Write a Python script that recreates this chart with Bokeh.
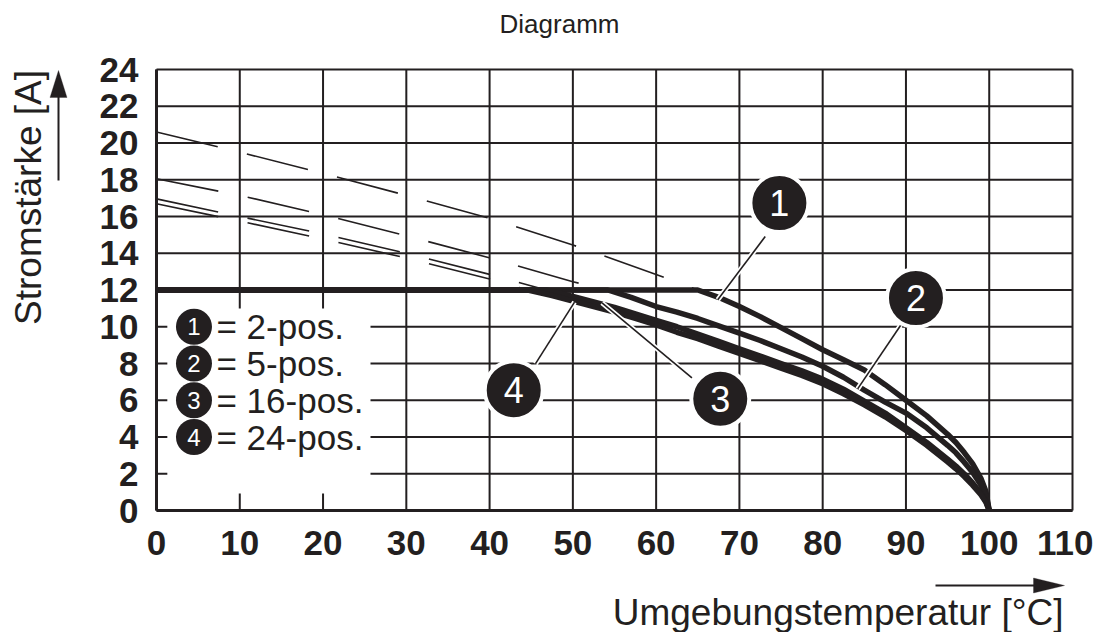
from math import pi
from bokeh.plotting import figure
from bokeh.models import Range1d, FixedTicker, Label, Arrow, PolyAnnotation
from bokeh.core.properties import value
from bokeh.embed import file_html
from bokeh.resources import INLINE

FONT = "Liberation Sans"
INK = "#231f20"

# ---------------- data ----------------
x_ticks = [0, 10, 20, 30, 40, 50, 60, 70, 80, 90, 100, 110]
y_ticks = [0, 2, 4, 6, 8, 10, 12, 14, 16, 18, 20, 22, 24]

# extrapolated (dashed) parts above 12 A
t_dash_1 = [0, 10, 20, 30, 40, 50, 60, 65]
a_dash_1 = [20.6, 19.5, 18.35, 17.15, 15.9, 14.45, 12.85, 12.0]
t_dash_2 = [0, 10, 20, 30, 40, 50, 54.2]
a_dash_2 = [18.05, 17.15, 16.1, 14.95, 13.75, 12.45, 12.0]
t_dash_3 = [0, 10, 20, 30, 40, 46.8]
a_dash_3 = [16.96, 16.0, 15.05, 14.0, 12.85, 12.0]
t_dash_4 = [0, 10, 20, 30, 40, 44.6]
a_dash_4 = [16.69, 15.75, 14.77, 13.74, 12.6, 12.0]

# derating curves (solid)
t_curve_1 = [0, 65, 67.5, 70, 72.5, 75, 77.5, 80, 82.5, 85, 87.5, 90, 92.5,
             95, 96, 97, 98, 99, 99.6, 100]
a_curve_1 = [12, 12, 11.6, 11.1, 10.55, 9.95, 9.35, 8.75, 8.2, 7.65, 6.85, 6.0,
             5.15, 4.15, 3.7, 3.15, 2.55, 1.75, 1.05, 0]
t_curve_2 = [0, 54.2, 57, 60, 62.5, 65, 67.5, 70, 72.5, 75, 77.5, 80, 82.5, 85,
             87.5, 90, 92.5, 95, 96, 97, 98, 99, 99.6, 100]
a_curve_2 = [12, 12, 11.6, 11.1, 10.8, 10.45, 10.05, 9.65, 9.25, 8.8, 8.35, 7.85,
             7.25, 6.55, 5.9, 5.3, 4.5, 3.55, 3.14, 2.63, 2.08, 1.39, 0.82, 0]
t_curve_3 = [0, 46.8, 50, 52.5, 55, 57.5, 60, 62.5, 65, 67.5, 70, 72.5, 75, 77.5,
             80, 82.5, 85, 87.5, 90, 92.5, 95, 96, 97, 98, 99, 99.6, 100]
a_curve_3 = [12, 12, 11.65, 11.35, 11.05, 10.7, 10.35, 10.0, 9.6, 9.2, 8.8, 8.4,
             8.0, 7.6, 7.15, 6.6, 5.95, 5.3, 4.5, 3.7, 2.8, 2.42, 1.99, 1.5,
             0.94, 0.5, 0]
t_curve_4 = [0, 44.6, 47.5, 50, 52.5, 55, 57.5, 60, 62.5, 65, 67.5, 70, 72.5, 75,
             77.5, 80, 82.5, 85, 87.5, 90, 92.5, 95, 96, 97, 98, 99, 99.6, 100]
a_curve_4 = [12, 12, 11.7, 11.4, 11.1, 10.8, 10.45, 10.1, 9.7, 9.35, 8.95, 8.55,
             8.15, 7.75, 7.35, 6.9, 6.35, 5.75, 5.1, 4.35, 3.55, 2.65, 2.27, 1.85,
             1.38, 0.86, 0.45, 0]

legend_keys = ["1", "2", "3", "4"]
legend_texts = ["= 2-pos.", "= 5-pos.", "= 16-pos.", "= 24-pos."]

# ---------------- figure ----------------
# The frame fills the whole canvas; the chart box 0..110 / 0..24 sits at
# canvas x 156..1072, y 69..510.
W, H = 1093, 632
X0, X1, Y0, Y1 = 156, 1072, 69, 510
kx = (X1 - X0) / (x_ticks[-1] - x_ticks[0])
ky = (Y1 - Y0) / (y_ticks[-1] - y_ticks[0])
p = figure(width=W, height=H, output_backend="svg", toolbar_location=None,
           title_location=None,
           x_range=Range1d(x_ticks[0] - X0 / kx, x_ticks[-1] + (W - X1) / kx),
           y_range=Range1d(y_ticks[0] - (H - Y1) / ky, y_ticks[-1] + Y0 / ky),
           min_border_left=0, min_border_right=0, min_border_top=0,
           min_border_bottom=0)
p.background_fill_color = "white"
p.border_fill_color = "white"
p.outline_line_color = None
p.grid.visible = False

for ax, ticks in ((p.xaxis, x_ticks), (p.yaxis, y_ticks)):
    ax.ticker = FixedTicker(ticks=ticks)
    ax.fixed_location = 0
    ax.bounds = (ticks[0], ticks[-1])
    ax.axis_line_color = INK
    ax.axis_line_width = 3
    ax.major_tick_in = 0
    ax.major_tick_out = 0
    ax.minor_tick_in = 0
    ax.minor_tick_out = 0
    ax.major_label_text_font = FONT
    ax.major_label_text_font_style = "bold"
    ax.major_label_text_font_size = "35px"
    ax.major_label_text_color = INK
p.xaxis.major_label_standoff = 20
p.yaxis.major_label_standoff = 18

# grid (from the tick lists)
nx, ny = len(x_ticks), len(y_ticks)
p.segment(x0=x_ticks, y0=[y_ticks[0]] * nx, x1=x_ticks, y1=[y_ticks[-1]] * nx,
          line_color=INK, line_width=2)
p.segment(x0=[x_ticks[0]] * ny, y0=y_ticks, x1=[x_ticks[-1]] * ny, y1=y_ticks,
          line_color=INK, line_width=2)

# legend box (white, interrupts the grid)
p.quad(left=1.3, right=25.7, bottom=0.93, top=11.0, fill_color="white",
       line_color=None)

# dashed extrapolations
for t, a in ((t_dash_1, a_dash_1), (t_dash_2, a_dash_2),
             (t_dash_3, a_dash_3), (t_dash_4, a_dash_4)):
    p.line(t, a, line_color=INK, line_width=1.6, line_dash="63 30")

# solid derating curves
for t, a in ((t_curve_1, a_curve_1), (t_curve_2, a_curve_2),
             (t_curve_3, a_curve_3), (t_curve_4, a_curve_4)):
    p.line(t, a, line_color=INK, line_width=5.5, line_join="round")

# leader lines (white halo + black line)
lx0 = [73.1, 89.35, 64.3, 45.5]
ly0 = [14.91, 10.07, 7.22, 7.98]
lx1 = [67.4, 84.2, 53.5, 50.2]
ly1 = [11.47, 6.62, 11.3, 11.34]
p.segment(lx0, ly0, lx1, ly1, line_color="white", line_width=5)
p.segment(lx0, ly0, lx1, ly1, line_color=INK, line_width=1.6)

# callout bubbles
bx = [74.8, 91.2, 67.7, 42.9]
by = [16.73, 11.56, 6.08, 6.55]
p.scatter(bx, by, marker="circle", size=58, fill_color=INK,
          line_color="white", line_width=4)
p.text(bx, by, text=legend_keys, text_color="white", text_font=value(FONT),
       text_font_size="36px", text_align="center", text_baseline="middle")

# legend entries
lg_y = [10, 8, 6, 4]
p.scatter([4.5] * 4, lg_y, marker="circle", size=36, fill_color=INK,
          line_color=None)
p.text([4.5] * 4, lg_y, text=legend_keys, text_color="white",
       text_font=value(FONT), text_font_size="24px", text_align="center",
       text_baseline="middle")
p.text([7.2] * 4, lg_y, text=legend_texts, text_color=INK,
       text_font=value(FONT), text_font_size="35px", text_align="left",
       text_baseline="middle")

# title / axis labels (canvas pixel units)
p.add_layout(Label(x=559, y=23, x_units="canvas", y_units="canvas",
                   text="Diagramm", text_font=FONT, text_font_size="26px",
                   text_color=INK, text_align="center",
                   text_baseline="alphabetic"))
p.add_layout(Label(x=28, y=197, x_units="canvas", y_units="canvas",
                   text="Stromstärke [A]", text_font=FONT,
                   text_font_size="37px", text_color=INK, angle=pi / 2,
                   text_align="center", text_baseline="middle"))
p.add_layout(Label(x=1063, y=612, x_units="canvas", y_units="canvas",
                   text="Umgebungstemperatur [°C]", text_font=FONT,
                   text_font_size="37px", text_color=INK, text_align="right",
                   text_baseline="alphabetic"))

# axis arrows
p.add_layout(Arrow(x_start=58, y_start=180, x_end=58, y_end=96,
                   start_units="canvas", end_units="canvas", end=None,
                   line_color=INK, line_width=2))
p.add_layout(PolyAnnotation(xs=[58, 49.5, 66.5], ys=[70, 97, 97],
                            xs_units="canvas", ys_units="canvas",
                            fill_color=INK, fill_alpha=1, line_color=INK,
                            line_width=1))
p.add_layout(Arrow(x_start=935, y_start=585, x_end=1034, y_end=585,
                   start_units="canvas", end_units="canvas", end=None,
                   line_color=INK, line_width=2))
p.add_layout(PolyAnnotation(xs=[1064, 1033, 1033], ys=[585, 577.5, 592.5],
                            xs_units="canvas", ys_units="canvas",
                            fill_color=INK, fill_alpha=1, line_color=INK,
                            line_width=1))

open("out.html", "w").write(file_html(p, INLINE))
